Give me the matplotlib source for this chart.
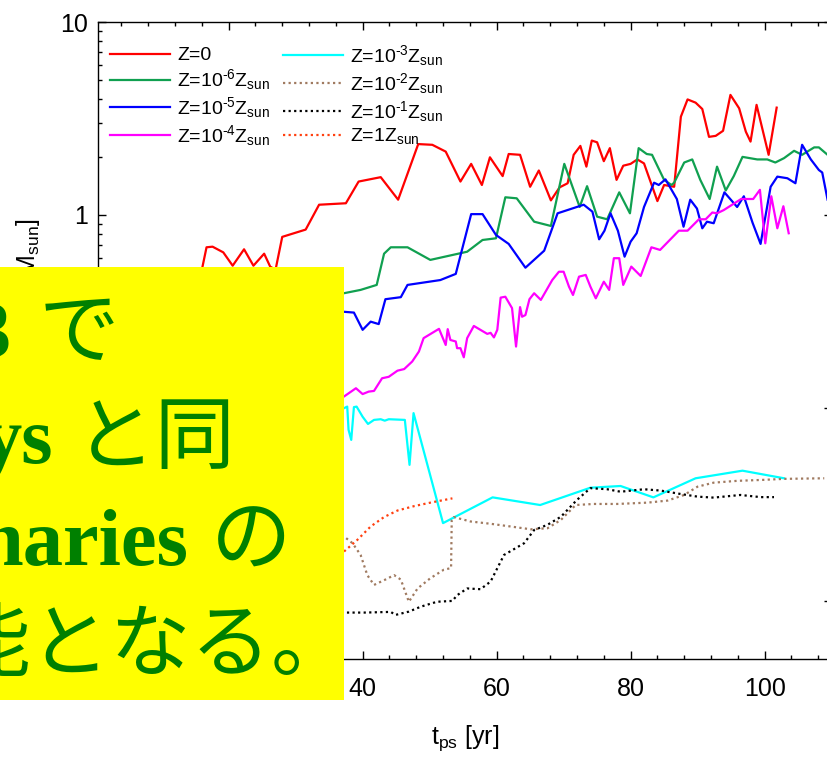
import matplotlib
matplotlib.use("Agg")
import matplotlib.pyplot as plt
from matplotlib.patches import Rectangle
from matplotlib.ticker import MultipleLocator, FuncFormatter, LogLocator

plt.rcParams["font.family"] = ["Liberation Sans", "DejaVu Sans"]
plt.rcParams["mathtext.default"] = "regular"

# mass growth per metallicity run: time [yr] and mass [Msun]
t_z0 = [10.0, 15.5, 16.1, 16.7, 17.6, 19.2, 20.6, 22.3, 23.7, 25.3, 26.2, 27.0, 28.0, 31.5, 33.5,
        37.5, 39.4, 42.7, 45.3, 48.3, 50.4, 52.4, 54.6, 56.2, 57.8, 59.0, 60.9, 61.8, 63.5, 65.0,
        66.3, 68.1, 69.4, 70.6, 71.5, 72.5, 73.4, 74.2, 75.0, 76.0, 76.9, 77.9, 78.9, 80.0, 81.0,
        82.0, 84.0, 85.0, 86.5, 87.5, 88.5, 89.7, 90.7, 91.7, 92.7, 93.8, 94.9, 96.2, 97.2, 97.9,
        98.8, 100.6, 101.8]
m_z0 = [0.20, 0.45, 0.54, 0.68, 0.685, 0.64, 0.546, 0.664, 0.546, 0.63, 0.54, 0.52, 0.77, 0.84, 1.13,
        1.15, 1.49, 1.57, 1.20, 2.33, 2.31, 2.13, 1.49, 1.84, 1.43, 1.99, 1.59, 2.07, 2.05, 1.40,
        1.70, 1.19, 1.39, 1.46, 2.05, 2.28, 1.78, 2.43, 2.38, 1.90, 2.22, 1.52, 1.80, 1.84, 1.94,
        1.85, 1.18, 1.43, 1.40, 3.23, 3.97, 3.82, 3.54, 2.54, 2.57, 2.73, 4.19, 3.57, 2.70, 2.40,
        3.72, 2.05, 3.60]

t_z6 = [36.0, 37.2, 39.7, 42.1, 43.2, 44.2, 46.7, 50.1, 55.6, 57.9, 59.9, 61.3, 63.0, 65.6, 68.1,
        70.1, 72.4, 73.5, 75.0, 76.5, 78.3, 79.9, 81.2, 82.4, 83.2, 85.0, 86.1, 86.5, 88.0, 89.2,
        90.4, 91.8, 92.9, 94.2, 95.4, 96.7, 98.9, 100.4, 101.6, 102.9, 104.4, 105.6, 107.4, 108.1, 109.4]
m_z6 = [0.39, 0.393, 0.409, 0.434, 0.63, 0.68, 0.68, 0.585, 0.645, 0.742, 0.757, 1.235, 1.22, 0.923, 0.877,
        1.84, 1.10, 1.41, 0.98, 0.95, 1.31, 1.02, 2.22, 2.07, 2.05, 1.52, 1.43, 1.47, 1.87, 1.94,
        1.52, 1.21, 1.78, 1.34, 1.59, 2.00, 1.94, 1.94, 1.87, 1.97, 2.15, 2.05, 2.24, 2.24, 2.05]

t_z5 = [36.0, 37.2, 38.7, 40.0, 41.2, 42.4, 43.4, 45.7, 46.7, 51.6, 53.9, 56.2, 57.9, 59.9, 61.8,
        64.3, 67.1, 69.1, 73.0, 74.3, 75.3, 76.1, 77.0, 78.1, 79.1, 80.0, 80.9, 82.0, 83.5, 84.2,
        85.2, 86.9, 87.9, 88.9, 89.9, 90.7, 91.4, 92.4, 94.0, 95.9, 96.9, 98.2, 99.4, 100.9, 101.9,
        103.4, 104.6, 105.6, 106.9, 108.1, 108.6, 109.4]
m_z5 = [0.31, 0.315, 0.312, 0.254, 0.28, 0.272, 0.366, 0.375, 0.434, 0.46, 0.495, 1.01, 1.01, 0.788, 0.708,
        0.533, 0.653, 1.02, 1.13, 1.04, 0.748, 0.829, 1.02, 0.829, 0.608, 0.727, 0.804, 1.10, 1.47, 1.43,
        1.53, 1.21, 0.869, 1.20, 1.08, 0.853, 0.923, 0.906, 1.31, 1.10, 1.25, 0.912, 0.708, 1.40, 1.58,
        1.55, 1.46, 2.31, 1.94, 1.71, 1.66, 1.20]

t_z4 = [36.0, 37.2, 39.0, 40.0, 40.9, 41.7, 42.9, 43.9, 45.2, 46.2, 47.4, 48.4, 49.1, 51.4, 52.4,
        52.7, 53.1, 53.9, 54.1, 54.6, 55.1, 55.6, 56.6, 58.6, 59.1, 59.6, 60.1, 60.6, 61.3, 62.3,
        62.9, 63.5, 63.8, 64.3, 64.9, 65.6, 66.6, 68.3, 69.3, 70.0, 70.8, 71.4, 72.3, 73.3, 74.0,
        74.8, 76.0, 76.8, 77.5, 78.3, 78.9, 80.1, 81.5, 83.1, 84.4, 87.2, 88.5, 90.2, 91.2, 92.2,
        92.9, 93.9, 96.5, 98.3, 99.3, 100.1, 101.0, 101.9, 102.8, 103.6]
m_z4 = [0.112, 0.1145, 0.1265, 0.118, 0.1215, 0.1225, 0.1425, 0.145, 0.156, 0.159, 0.174, 0.196, 0.23, 0.257, 0.212,
        0.256, 0.225, 0.221, 0.204, 0.204, 0.183, 0.23, 0.266, 0.242, 0.245, 0.232, 0.254, 0.373, 0.377, 0.329,
        0.208, 0.333, 0.297, 0.303, 0.366, 0.393, 0.363, 0.46, 0.508, 0.508, 0.425, 0.385, 0.479, 0.489, 0.425,
        0.37, 0.451, 0.409, 0.597, 0.597, 0.434, 0.54, 0.483, 0.68, 0.659, 0.829, 0.829, 0.95, 0.95, 1.03,
        1.02, 1.06, 1.21, 1.21, 1.35, 0.713, 1.25, 0.853, 1.11, 0.804]

t_z3 = [36.0, 37.2, 37.7, 37.9, 38.3, 38.7, 39.1, 40.0, 40.8, 41.7, 42.7, 43.3, 43.9, 46.3, 47.0,
        47.6, 52.0, 59.4, 66.5, 74.0, 78.5, 83.4, 89.7, 96.7, 102.9]
m_z3 = [0.098, 0.0996, 0.1016, 0.077, 0.0683, 0.101, 0.1016, 0.090, 0.0826, 0.0867, 0.0874, 0.0859, 0.0874, 0.0867, 0.0507,
        0.094, 0.0253, 0.0344, 0.0314, 0.0386, 0.0394, 0.0344, 0.0432, 0.0473, 0.0432]

t_z2 = [36.0, 37.2, 38.5, 39.7, 40.7, 41.7, 43.4, 44.7, 45.7, 46.9, 48.2, 50.1, 52.1, 53.2, 53.3,
        53.6, 56.1, 59.1, 62.1, 65.1, 67.6, 69.6, 71.8, 74.5, 78.0, 82.5, 85.5, 88.0, 90.0, 92.4,
        95.9, 99.9, 102.9, 108.9]
m_z2 = [0.022, 0.0216, 0.0199, 0.0173, 0.0136, 0.0121, 0.0129, 0.0136, 0.0129, 0.0099, 0.0116, 0.0131, 0.0145, 0.0148, 0.0263,
        0.0272, 0.0258, 0.0251, 0.0243, 0.0235, 0.0238, 0.0263, 0.0314, 0.0318, 0.0318, 0.0323, 0.0331, 0.0354, 0.0391, 0.041,
        0.0419, 0.0424, 0.0429, 0.0432]

t_z1 = [36.0, 37.2, 40.2, 44.2, 44.9, 46.9, 48.7, 51.1, 53.4, 54.1, 55.6, 57.6, 59.1, 61.1, 64.1,
        65.6, 67.6, 69.6, 72.0, 74.0, 76.5, 78.5, 82.0, 84.5, 87.5, 90.0, 92.4, 96.4, 99.4, 101.4]
m_z1 = [0.0087, 0.0087, 0.0087, 0.00877, 0.00846, 0.0088, 0.00934, 0.0099, 0.01, 0.0107, 0.0116, 0.0115, 0.0126, 0.0173, 0.0199,
        0.0233, 0.0248, 0.0273, 0.0334, 0.0384, 0.0379, 0.0368, 0.0379, 0.0373, 0.0358, 0.0347, 0.0343, 0.0354, 0.0345, 0.0345]

t_zsun = [36.0, 37.2, 39.2, 41.2, 43.2, 45.2, 47.7, 50.1, 53.4]
m_zsun = [0.0165, 0.018, 0.0207, 0.0243, 0.0272, 0.0294, 0.031, 0.0323, 0.034]

HY = "\u2010"  # short hyphen for the exponents
labels = ["Z=0", f"Z=10$^{{{HY}6}}$Z$_{{sun}}$", f"Z=10$^{{{HY}5}}$Z$_{{sun}}$",
          f"Z=10$^{{{HY}4}}$Z$_{{sun}}$", f"Z=10$^{{{HY}3}}$Z$_{{sun}}$",
          f"Z=10$^{{{HY}2}}$Z$_{{sun}}$", f"Z=10$^{{{HY}1}}$Z$_{{sun}}$", "Z=1Z$_{sun}$"]

# note lines: (latin part, japanese part)
note_latin = ["3", "ys", "naries", ""]
note_jp = ["で", "と同", "の", "能となる。"]

W, H = 827, 757
fig = plt.figure(figsize=(W / 100, H / 100), dpi=100)
ax = fig.add_axes([98 / W, 1 - 659 / H, 733.6 / W, 637 / H])

dot = (0, (1, 1.5))
runs = [
    (t_z0, m_z0, "#ff0000", "-"),
    (t_z6, m_z6, "#10a050", "-"),
    (t_z5, m_z5, "#0000ff", "-"),
    (t_z4, m_z4, "#ff00ff", "-"),
    (t_z3, m_z3, "#00ffff", "-"),
    (t_z2, m_z2, "#a07a60", dot),
    (t_z1, m_z1, "#000000", dot),
    (t_zsun, m_zsun, "#ff4010", dot),
]
lines = []
for (t, m, c, ls), lab in zip(runs, labels):
    ln, = ax.plot(t, m, color=c, ls=ls, lw=1.6, label=lab)
    lines.append(ln)

ax.set_yscale("log")
ax.set_xlim(0.5, 110)
ax.set_ylim(0.005, 10)
ax.xaxis.set_major_locator(MultipleLocator(20))
ax.xaxis.set_minor_locator(MultipleLocator(4))
ax.yaxis.set_major_locator(LogLocator(base=10))
ax.yaxis.set_minor_locator(LogLocator(base=10, subs=range(2, 10)))
ax.yaxis.set_major_formatter(FuncFormatter(lambda v, _: f"{v:g}"))
ax.yaxis.set_minor_formatter(FuncFormatter(lambda v, _: ""))
ax.tick_params(which="both", direction="in", top=True, right=True, labelsize=18, width=1)
ax.tick_params(which="major", length=6)
ax.tick_params(which="minor", length=3)
ax.tick_params(axis="x", pad=13)
ax.tick_params(axis="y", pad=7)
for s in ax.spines.values():
    s.set_linewidth(1.0)

ax.set_xlabel("t$_{ps}$ [yr]", fontsize=18, labelpad=16)
ax.set_ylabel("M$_{*}$ [M$_{sun}$]", fontsize=18, ha="right", va="bottom")
ax.yaxis.set_label_coords((42 - 98) / 733.6, 1 - (218 - 22) / 637)

leg_kw = dict(frameon=False, fontsize=14, handlelength=3.1, handletextpad=0.36,
              labelspacing=0.15, borderpad=0, borderaxespad=0, loc="upper left")
leg1 = ax.legend(lines[:4], labels[:4], bbox_to_anchor=(0.0164, 0.961), **leg_kw)
ax.add_artist(leg1)
ax.legend(lines[4:], labels[4:], bbox_to_anchor=(0.252, 0.967), **leg_kw)

# yellow note box over the lower left
fig.add_artist(Rectangle((0, 1 - 700 / H), 344 / W, (700 - 267) / H,
                         transform=fig.transFigure, facecolor="#ffff00",
                         edgecolor="none", zorder=10))
renderer = fig.canvas.get_renderer()
for latin, jp, xr, yb, gap in zip(note_latin, note_jp, [119, 236, 291, 352],
                                  [357, 463, 565, 670], [28, 22, 22, 0]):
    tj = fig.text(xr / W, 1 - yb / H, jp, ha="right", va="baseline", fontsize=58,
                  color="#008000", family=["Noto Sans CJK JP"], zorder=11)
    if latin:
        x0 = tj.get_window_extent(renderer).x0
        fig.text((x0 - gap) / W, 1 - yb / H, latin, ha="right", va="baseline",
                 fontsize=58, color="#008000", fontweight="bold",
                 family=["Liberation Serif"], zorder=11)

fig.savefig("out.png", dpi=100)
